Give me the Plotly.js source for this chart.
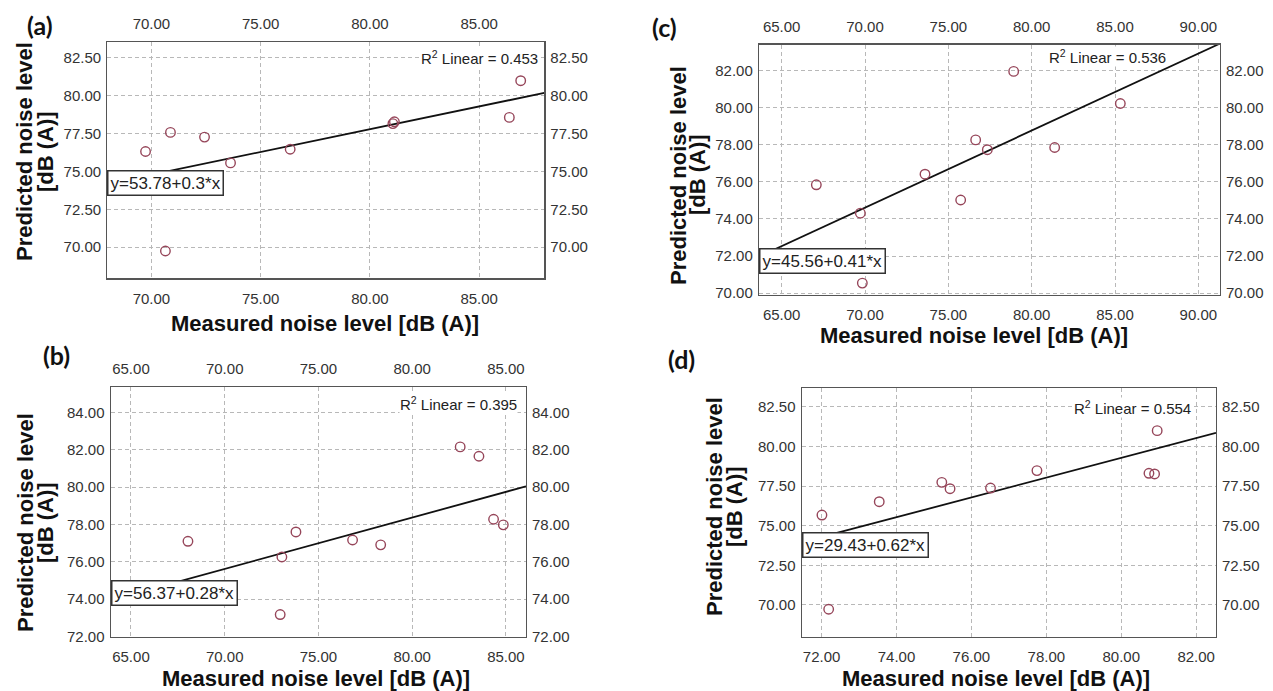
<!DOCTYPE html>
<html>
<head>
<meta charset="utf-8">
<script src="https://cdn.plot.ly/plotly-3.0.1.min.js"></script>
<style>
html,body{margin:0;padding:0;background:#fff;}
#chart{width:1273px;height:691px;}
</style>
</head>
<body>
<div id="chart"></div>
<script>
// ---------- DATA ----------
const panelLabels = ["(a)", "(b)", "(c)", "(d)"];
const xTitle = "Measured noise level [dB (A)]";
const yTitleLine1 = "Predicted noise level";
const yTitleLine2 = "[dB (A)]";

// (a)
const measuredA  = [69.73, 70.87, 70.64, 72.43, 73.62, 76.35, 81.05, 81.12, 86.38, 86.90];
const predictedA = [76.31, 77.57, 69.75, 77.26, 75.56, 76.46, 78.15, 78.27, 78.56, 80.98];
const xTicksA = [70, 75, 80, 85];
const yTicksA = [70, 72.5, 75, 77.5, 80, 82.5];
const interceptA = 53.78, slopeA = 0.30;
const equationA = "y=53.78+0.3*x";
const r2A = "0.453";

// (b)
const measuredB  = [68.04, 73.05, 72.96, 73.80, 76.82, 78.32, 82.56, 83.56, 84.34, 84.86];
const predictedB = [77.10, 76.26, 73.18, 77.60, 77.17, 76.91, 82.15, 81.65, 78.28, 77.98];
const xTicksB = [65, 70, 75, 80, 85];
const yTicksB = [72, 74, 76, 78, 80, 82, 84];
const interceptB = 56.37, slopeB = 0.275;
const equationB = "y=56.37+0.28*x";
const r2B = "0.395";

// (c)
const measuredC  = [67.08, 69.72, 69.84, 73.60, 75.74, 76.64, 77.34, 78.92, 81.38, 85.32];
const predictedC = [75.84, 74.31, 70.54, 76.41, 75.02, 78.26, 77.73, 81.95, 77.85, 80.22];
const xTicksC = [65, 70, 75, 80, 85, 90];
const yTicksC = [70, 72, 74, 76, 78, 80, 82];
const interceptC = 45.56, slopeC = 0.415;
const equationC = "y=45.56+0.41*x";
const r2C = "0.536";

// (d)
const measuredD  = [72.01, 72.19, 73.54, 75.21, 75.43, 76.51, 77.75, 80.74, 80.89, 80.96];
const predictedD = [75.67, 69.73, 76.51, 77.73, 77.33, 77.37, 78.47, 78.30, 78.26, 80.99];
const xTicksD = [72, 74, 76, 78, 80, 82];
const yTicksD = [70, 72.5, 75, 77.5, 80, 82.5];
const interceptD = 29.43, slopeD = 0.623;
const equationD = "y=29.43+0.62*x";
const r2D = "0.554";

// ---------- LAYOUT HELPERS ----------
const W = 1273, H = 691;
const px = v => v / W;
const py = v => 1 - v / H;

const panels = [
  {label: panelLabels[0], xs: measuredA, ys: predictedA, xt: xTicksA, yt: yTicksA, b: interceptA, m: slopeA, eq: equationA, r2: r2A,
   box: [107.3, 41.7, 544.3, 278.3], xr: [67.98, 87.98], yr: [67.95, 83.55], topLabels: true,
   eqTop: 75.12, r2x: 87.76, r2y: 82.5, lab: [40, 25], xtit: [325, 323], ytit: [25, 46, 152]},
  {label: panelLabels[1], xs: measuredB, ys: predictedB, xt: xTicksB, yt: yTicksB, b: interceptB, m: slopeB, eq: equationB, r2: r2B,
   box: [110.7, 387.3, 526, 636.7], xr: [63.92, 86.07], yr: [71.995, 85.34], topLabels: true,
   eqTop: 75.03, r2x: 85.66, r2y: 84.48, lab: [56, 355], xtit: [316, 678], ytit: [25, 45, 523]},
  {label: panelLabels[2], xs: measuredC, ys: predictedC, xt: xTicksC, yt: yTicksC, b: interceptC, m: slopeC, eq: equationC, r2: r2C,
   box: [759, 44.5, 1220, 295], xr: [63.64, 91.3], yr: [69.9, 83.4], topLabels: true,
   eqTop: 72.45, r2x: 88.1, r2y: 82.77, lab: [665, 27], xtit: [974, 335], ytit: [678, 697, 175]},
  {label: panelLabels[3], xs: measuredD, ys: predictedD, xt: xTicksD, yt: yTicksD, b: interceptD, m: slopeD, eq: equationD, r2: r2D,
   box: [801.7, 388.3, 1216, 636.7], xr: [71.47, 82.53], yr: [68.0, 83.66], topLabels: false,
   eqTop: 74.62, r2x: 81.88, r2y: 82.46, lab: [681, 359], xtit: [996, 678], ytit: [715, 735, 507]}
];

const FAM = "'Liberation Sans', Arial, sans-serif";
const tickFont = {family: FAM, size: 15, color: "#333"};
const titleFont = {family: FAM, size: 22, color: "#111"};
const gridColor = "#b8b8b8";
const noTick = "rgba(0,0,0,0)";

const traces = [];
const layout = {
  width: W, height: H,
  margin: {l: 0, r: 0, t: 0, b: 0},
  paper_bgcolor: "#fff", plot_bgcolor: "#fff",
  showlegend: false, hovermode: false,
  annotations: []
};

panels.forEach((p, i) => {
  const nb = 2 * i + 1, no = 2 * i + 2;
  const xb = "x" + (nb === 1 ? "" : nb), yb = "y" + (nb === 1 ? "" : nb);
  const xo = "x" + no, yo = "y" + no;
  const [l, t, r, bt] = p.box;
  const dom = {x: [px(l), px(r)], y: [py(bt), py(t)]};

  layout["xaxis" + (nb === 1 ? "" : nb)] = {
    domain: dom.x, anchor: yb, range: p.xr, tickvals: p.xt, tickformat: ".2f",
    showgrid: true, gridcolor: gridColor, griddash: "4px,3px", gridwidth: 1,
    showline: true, mirror: true, linecolor: "#555", linewidth: 1.2,
    ticks: "outside", ticklen: 6, tickcolor: noTick,
    zeroline: false, tickfont: tickFont, fixedrange: true
  };
  layout["yaxis" + (nb === 1 ? "" : nb)] = {
    domain: dom.y, anchor: xb, range: p.yr, tickvals: p.yt, tickformat: ".2f",
    showgrid: true, gridcolor: gridColor, griddash: "4px,3px", gridwidth: 1,
    showline: true, mirror: true, linecolor: "#555", linewidth: 1.2,
    ticks: "outside", ticklen: 2, tickcolor: noTick,
    zeroline: false, tickfont: tickFont, fixedrange: true
  };
  layout["xaxis" + no] = {
    overlaying: xb, side: "top", anchor: yo, range: p.xr, tickvals: p.xt, tickformat: ".2f",
    showticklabels: p.topLabels,
    ticks: "outside", ticklen: 6, tickcolor: noTick,
    showgrid: false, showline: false, zeroline: false, tickfont: tickFont, fixedrange: true
  };
  layout["yaxis" + no] = {
    overlaying: yb, side: "right", anchor: xo, range: p.yr, tickvals: p.yt, tickformat: ".2f",
    ticks: "outside", ticklen: 2, tickcolor: noTick,
    showgrid: false, showline: false, zeroline: false, tickfont: tickFont, fixedrange: true
  };

  // regression line from the fitted coefficients across the x range
  traces.push({
    type: "scatter", mode: "lines", xaxis: xb, yaxis: yb,
    x: [p.xr[0], p.xr[1]], y: [p.b + p.m * p.xr[0], p.b + p.m * p.xr[1]],
    line: {color: "#111", width: 1.8}, hoverinfo: "skip", cliponaxis: true
  });
  // data points
  traces.push({
    type: "scatter", mode: "markers", xaxis: xb, yaxis: yb,
    x: p.xs, y: p.ys,
    marker: {symbol: "circle-open", size: 9.5, color: "#96465a", line: {width: 1.4, color: "#96465a"}},
    hoverinfo: "skip"
  });
  // invisible trace to activate the mirrored top / right axes
  traces.push({
    type: "scatter", mode: "markers", xaxis: xo, yaxis: yo,
    x: p.xs, y: p.ys, marker: {opacity: 0}, hoverinfo: "skip"
  });

  // equation box
  layout.annotations.push({
    xref: xb, yref: yb, x: p.xr[0], y: p.eqTop, xanchor: "left", yanchor: "top",
    text: p.eq, showarrow: false,
    font: {family: FAM, size: 17, color: "#222"},
    bgcolor: "#fff", bordercolor: "#333", borderwidth: 1.5, borderpad: 2
  });
  // R² label
  layout.annotations.push({
    xref: xb, yref: yb, x: p.r2x, y: p.r2y, xanchor: "right", yanchor: "middle",
    text: "R<sup>2</sup> Linear = " + p.r2, showarrow: false,
    font: {family: FAM, size: 15, color: "#222"},
    bgcolor: "#fff", borderpad: 0
  });
  // panel label
  layout.annotations.push({
    xref: "paper", yref: "paper", x: px(p.lab[0]), y: py(p.lab[1]), xanchor: "center", yanchor: "middle",
    text: "<b>" + p.label + "</b>", showarrow: false,
    font: {family: "Lato, 'Open Sans', sans-serif", size: 25, color: "#111"}
  });
  // x title
  layout.annotations.push({
    xref: "paper", yref: "paper", x: px(p.xtit[0]), y: py(p.xtit[1]), xanchor: "center", yanchor: "middle",
    text: "<b>" + xTitle + "</b>", showarrow: false, font: titleFont
  });
  // y title (two lines)
  layout.annotations.push({
    xref: "paper", yref: "paper", x: px(p.ytit[0]), y: py(p.ytit[2]), xanchor: "center", yanchor: "middle",
    text: "<b>" + yTitleLine1 + "</b>", textangle: -90, showarrow: false, font: titleFont
  });
  layout.annotations.push({
    xref: "paper", yref: "paper", x: px(p.ytit[1]), y: py(p.ytit[2]), xanchor: "center", yanchor: "middle",
    text: "<b>" + yTitleLine2 + "</b>", textangle: -90, showarrow: false, font: titleFont
  });
});

Plotly.newPlot("chart", traces, layout, {staticPlot: true, displayModeBar: false});
</script>
</body>
</html>
